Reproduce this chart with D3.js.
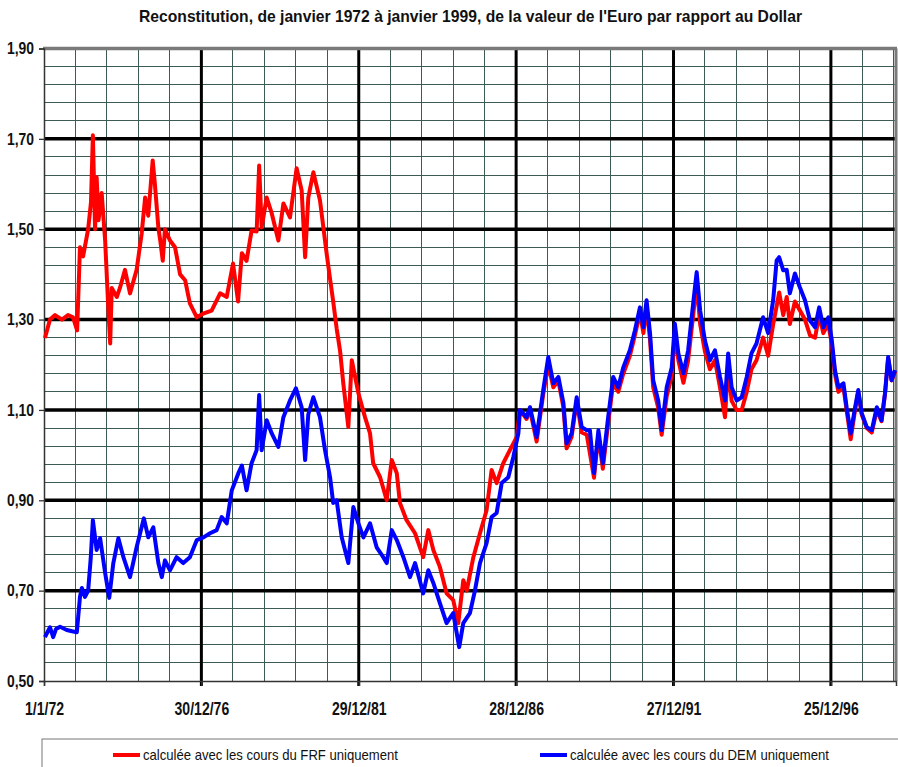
<!DOCTYPE html>
<html>
<head>
<meta charset="utf-8">
<script src="https://cdn.jsdelivr.net/npm/d3@7"></script>
<style>
  body { margin: 0; background: #fff; }
  text { font-family: "Liberation Sans", Arial, sans-serif; fill: #111; }
</style>
</head>
<body>
<div id="chart"></div>
<script>
// x tick labels (dates) and y ticks
var xTickLabels = ["1/1/72", "30/12/76", "29/12/81", "28/12/86", "27/12/91", "25/12/96"];
var yTicks = [0.5, 0.7, 0.9, 1.1, 1.3, 1.5, 1.7, 1.9];

// [decimal year, value]
var frfSeries = [
  [1972.03, 1.259], [1972.19, 1.30], [1972.35, 1.31], [1972.57, 1.30], [1972.76, 1.31],
  [1972.92, 1.305], [1973.05, 1.276], [1973.14, 1.46], [1973.24, 1.44], [1973.40, 1.50],
  [1973.49, 1.56], [1973.55, 1.708], [1973.62, 1.50], [1973.67, 1.615], [1973.73, 1.52],
  [1973.83, 1.58], [1973.94, 1.475], [1974.03, 1.34], [1974.10, 1.247], [1974.15, 1.37],
  [1974.31, 1.35], [1974.41, 1.37], [1974.57, 1.41], [1974.73, 1.358], [1974.94, 1.41],
  [1975.10, 1.49], [1975.21, 1.57], [1975.31, 1.53], [1975.45, 1.652], [1975.52, 1.60],
  [1975.63, 1.504], [1975.70, 1.47], [1975.77, 1.43], [1975.84, 1.50], [1976.00, 1.475],
  [1976.16, 1.46], [1976.32, 1.40], [1976.48, 1.387], [1976.63, 1.336], [1976.85, 1.305],
  [1977.05, 1.313], [1977.32, 1.32], [1977.59, 1.358], [1977.80, 1.35], [1978.00, 1.424],
  [1978.16, 1.34], [1978.28, 1.447], [1978.43, 1.43], [1978.59, 1.497], [1978.75, 1.495],
  [1978.83, 1.641], [1978.91, 1.504], [1979.07, 1.57], [1979.23, 1.535], [1979.44, 1.475],
  [1979.60, 1.557], [1979.81, 1.526], [1980.02, 1.635], [1980.18, 1.586], [1980.29, 1.438],
  [1980.39, 1.57], [1980.55, 1.626], [1980.76, 1.564], [1980.97, 1.447], [1981.08, 1.39],
  [1981.18, 1.34], [1981.29, 1.28], [1981.40, 1.23], [1981.50, 1.159], [1981.66, 1.062],
  [1981.77, 1.21], [1981.98, 1.137], [1982.19, 1.084], [1982.35, 1.048], [1982.45, 0.982],
  [1982.67, 0.951], [1982.88, 0.90], [1983.04, 0.989], [1983.20, 0.96], [1983.30, 0.894],
  [1983.51, 0.856], [1983.78, 0.827], [1984.04, 0.774], [1984.20, 0.834], [1984.36, 0.79],
  [1984.57, 0.752], [1984.78, 0.694], [1984.99, 0.679], [1985.15, 0.628], [1985.31, 0.723],
  [1985.42, 0.70], [1985.63, 0.774], [1985.84, 0.827], [1986.05, 0.878], [1986.21, 0.967],
  [1986.37, 0.938], [1986.58, 0.982], [1986.79, 1.011], [1987.01, 1.04], [1987.11, 1.10],
  [1987.32, 1.08], [1987.43, 1.10], [1987.64, 1.03], [1987.85, 1.135], [1988.01, 1.20],
  [1988.17, 1.15], [1988.33, 1.165], [1988.49, 1.105], [1988.59, 1.015], [1988.75, 1.04],
  [1988.91, 1.12], [1989.07, 1.05], [1989.23, 1.045], [1989.46, 0.95], [1989.60, 1.045],
  [1989.74, 0.97], [1989.91, 1.07], [1990.07, 1.16], [1990.23, 1.14], [1990.39, 1.18],
  [1990.60, 1.22], [1990.76, 1.265], [1990.92, 1.315], [1991.03, 1.27], [1991.13, 1.33],
  [1991.24, 1.255], [1991.34, 1.15], [1991.50, 1.105], [1991.61, 1.045], [1991.77, 1.13],
  [1991.93, 1.175], [1992.03, 1.27], [1992.14, 1.21], [1992.30, 1.16], [1992.45, 1.21],
  [1992.61, 1.31], [1992.72, 1.38], [1992.83, 1.29], [1992.98, 1.23], [1993.14, 1.19],
  [1993.30, 1.21], [1993.46, 1.15], [1993.62, 1.084], [1993.72, 1.20], [1993.83, 1.12],
  [1993.99, 1.10], [1994.15, 1.10], [1994.31, 1.14], [1994.46, 1.19], [1994.62, 1.21],
  [1994.83, 1.26], [1994.99, 1.22], [1995.15, 1.29], [1995.26, 1.33], [1995.34, 1.36],
  [1995.47, 1.31], [1995.58, 1.35], [1995.68, 1.29], [1995.84, 1.34], [1996.00, 1.32],
  [1996.16, 1.30], [1996.32, 1.265], [1996.48, 1.26], [1996.61, 1.31], [1996.74, 1.27],
  [1996.90, 1.29], [1997.01, 1.245], [1997.11, 1.18], [1997.22, 1.14], [1997.38, 1.15],
  [1997.48, 1.10], [1997.61, 1.035], [1997.75, 1.10], [1997.85, 1.14], [1997.96, 1.09],
  [1998.12, 1.06], [1998.28, 1.05], [1998.44, 1.10], [1998.59, 1.075], [1998.70, 1.135],
  [1998.80, 1.215], [1998.91, 1.165], [1999.02, 1.185]
];

var demSeries = [
  [1972.03, 0.597], [1972.19, 0.619], [1972.29, 0.597], [1972.38, 0.615], [1972.51, 0.62],
  [1972.72, 0.613], [1972.89, 0.61], [1973.04, 0.608], [1973.14, 0.686], [1973.20, 0.706],
  [1973.30, 0.686], [1973.40, 0.70], [1973.48, 0.77], [1973.55, 0.856], [1973.67, 0.79],
  [1973.78, 0.816], [1973.94, 0.739], [1974.07, 0.684], [1974.20, 0.761], [1974.36, 0.816],
  [1974.52, 0.774], [1974.73, 0.73], [1974.94, 0.796], [1975.17, 0.86], [1975.31, 0.818],
  [1975.47, 0.84], [1975.63, 0.761], [1975.74, 0.73], [1975.84, 0.767], [1976.00, 0.745],
  [1976.21, 0.774], [1976.42, 0.761], [1976.63, 0.774], [1976.85, 0.812], [1977.06, 0.818],
  [1977.27, 0.827], [1977.48, 0.834], [1977.64, 0.863], [1977.80, 0.849], [1977.96, 0.922],
  [1978.17, 0.96], [1978.28, 0.977], [1978.43, 0.922], [1978.59, 0.982], [1978.75, 1.011],
  [1978.83, 1.133], [1978.91, 1.011], [1979.07, 1.077], [1979.23, 1.048], [1979.44, 1.018],
  [1979.60, 1.084], [1979.81, 1.121], [1980.00, 1.148], [1980.18, 1.106], [1980.29, 0.989],
  [1980.39, 1.09], [1980.55, 1.128], [1980.76, 1.084], [1980.92, 1.011], [1981.08, 0.951],
  [1981.18, 0.894], [1981.29, 0.90], [1981.45, 0.818], [1981.66, 0.761], [1981.82, 0.885],
  [1981.98, 0.849], [1982.14, 0.818], [1982.35, 0.849], [1982.56, 0.796], [1982.77, 0.774],
  [1982.88, 0.761], [1983.04, 0.834], [1983.20, 0.812], [1983.41, 0.774], [1983.62, 0.73],
  [1983.78, 0.761], [1984.04, 0.694], [1984.20, 0.745], [1984.36, 0.717], [1984.57, 0.672],
  [1984.78, 0.628], [1984.99, 0.65], [1985.18, 0.575], [1985.31, 0.628], [1985.52, 0.65],
  [1985.68, 0.70], [1985.84, 0.761], [1986.05, 0.805], [1986.21, 0.863], [1986.37, 0.872],
  [1986.53, 0.938], [1986.74, 0.951], [1986.90, 0.996], [1987.06, 1.048], [1987.11, 1.10],
  [1987.32, 1.084], [1987.43, 1.106], [1987.64, 1.04], [1987.85, 1.144], [1988.01, 1.217],
  [1988.17, 1.159], [1988.33, 1.173], [1988.49, 1.115], [1988.59, 1.026], [1988.75, 1.048],
  [1988.91, 1.128], [1989.07, 1.062], [1989.23, 1.055], [1989.33, 1.055], [1989.46, 0.96],
  [1989.60, 1.055], [1989.74, 0.982], [1989.91, 1.084], [1990.07, 1.173], [1990.23, 1.15],
  [1990.39, 1.194], [1990.60, 1.232], [1990.76, 1.276], [1990.92, 1.327], [1991.03, 1.283],
  [1991.13, 1.343], [1991.24, 1.27], [1991.34, 1.166], [1991.50, 1.121], [1991.61, 1.055],
  [1991.77, 1.15], [1991.93, 1.194], [1992.03, 1.291], [1992.14, 1.225], [1992.30, 1.181],
  [1992.45, 1.232], [1992.61, 1.336], [1992.72, 1.405], [1992.83, 1.32], [1992.98, 1.254],
  [1993.14, 1.21], [1993.30, 1.232], [1993.46, 1.173], [1993.62, 1.121], [1993.72, 1.225],
  [1993.83, 1.15], [1993.99, 1.121], [1994.15, 1.128], [1994.31, 1.173], [1994.46, 1.225],
  [1994.62, 1.247], [1994.83, 1.305], [1994.99, 1.27], [1995.15, 1.343], [1995.26, 1.431],
  [1995.34, 1.438], [1995.47, 1.409], [1995.58, 1.41], [1995.68, 1.358], [1995.84, 1.402],
  [1996.00, 1.371], [1996.16, 1.343], [1996.32, 1.298], [1996.48, 1.283], [1996.61, 1.327],
  [1996.74, 1.283], [1996.90, 1.305], [1997.01, 1.254], [1997.11, 1.188], [1997.22, 1.15],
  [1997.38, 1.159], [1997.48, 1.106], [1997.61, 1.048], [1997.75, 1.106], [1997.85, 1.144],
  [1997.96, 1.093], [1998.12, 1.062], [1998.28, 1.055], [1998.44, 1.106], [1998.59, 1.077],
  [1998.70, 1.137], [1998.80, 1.217], [1998.91, 1.166], [1999.02, 1.188]
];

var title = "Reconstitution, de janvier 1972 à janvier 1999, de la valeur de l'Euro par rapport au Dollar";
var legendLabels = ["calculée avec les cours du FRF uniquement", "calculée avec les cours du DEM uniquement"];
var seriesColors = ["#ff0000", "#0000ff"];

function init() {
    var w = 898;
    var h = 767;
    var left = 44, right = 896, top = 48.5, bottom = 681;

    //decimal year to a date
    function toDate(y) {
        var yr = Math.floor(y);
        var a = new Date(yr, 0, 1), b = new Date(yr + 1, 0, 1);
        return new Date(a.getTime() + (y - yr) * (b - a));
    }

    var parse = d3.timeParse("%d/%m/%y");
    var tickDates = xTickLabels.map(parse);

    var x = d3.scaleTime()
            .domain([new Date(1972, 0, 1), new Date(1999, 0, 19)])
            .range([left, right]);

    var y = d3.scaleLinear()
            .domain([0.5, 1.9])
            .range([bottom, top]);

    var svg = d3.select("#chart")
            .append("svg")
            .attr("width", w)
            .attr("height", h);

    // title
    svg.append("text")
        .attr("x", 470.5)
        .attr("y", 22)
        .attr("text-anchor", "middle")
        .attr("textLength", 663)
        .attr("lengthAdjust", "spacingAndGlyphs")
        .style("font-size", "17px")
        .style("font-weight", "bold")
        .text(title);

    //minor horizontal lines every 0.04
    var minorY = d3.range(0, 36).map(function(i) { return 0.5 + i * 0.04; });
    svg.append("g").selectAll("line")
        .data(minorY)
        .enter()
        .append("line")
        .attr("x1", left).attr("x2", right)
        .attr("y1", function(d) { return y(d); })
        .attr("y2", function(d) { return y(d); })
        .style("stroke", "#3e5a54")
        .style("stroke-width", 1)
        .style("shape-rendering", "crispEdges");

    //minor vertical lines: 5 per major interval
    var minorX = [];
    for (var i = 0; i < tickDates.length; i++) {
        var t0 = tickDates[i].getTime();
        var step = i < tickDates.length - 1 ? (tickDates[i + 1] - tickDates[i]) / 5 : (tickDates[i] - tickDates[i - 1]) / 5;
        for (var k = 1; k < 5; k++) {
            var d = new Date(t0 + k * step);
            if (d < x.domain()[1]) minorX.push(d);
        }
    }
    svg.append("g").selectAll("line")
        .data(minorX)
        .enter()
        .append("line")
        .attr("x1", function(d) { return x(d); })
        .attr("x2", function(d) { return x(d); })
        .attr("y1", top).attr("y2", bottom)
        .style("stroke", "#3e5a54")
        .style("stroke-width", 1)
        .style("shape-rendering", "crispEdges");

    //major lines
    svg.append("g").selectAll("line")
        .data(yTicks.filter(function(d) { return d > 0.5 && d < 1.9; }))
        .enter()
        .append("line")
        .attr("x1", left).attr("x2", right)
        .attr("y1", function(d) { return y(d); })
        .attr("y2", function(d) { return y(d); })
        .style("stroke", "#000")
        .style("stroke-width", 3.5);

    svg.append("g").selectAll("line")
        .data(tickDates.slice(1))
        .enter()
        .append("line")
        .attr("x1", function(d) { return x(d); })
        .attr("x2", function(d) { return x(d); })
        .attr("y1", top).attr("y2", bottom + 5)
        .style("stroke", "#000")
        .style("stroke-width", 3);

    //frame
    svg.append("line").attr("x1", left - 1).attr("x2", right + 1).attr("y1", top).attr("y2", top)
        .style("stroke", "#7a7a7a").style("stroke-width", 3.5);
    svg.append("line").attr("x1", right).attr("x2", right).attr("y1", top).attr("y2", bottom)
        .style("stroke", "#7a7a7a").style("stroke-width", 3);

    // axes
    var yAxis = d3.axisLeft(y)
            .tickValues(yTicks)
            .tickSize(5)
            .tickPadding(5)
            .tickFormat(function(d) { return d3.format(".2f")(d).replace(".", ","); });
    var gy = svg.append("g")
        .attr("transform", "translate(" + left + ",0)")
        .call(yAxis);
    gy.select(".domain").style("stroke", "#333").style("stroke-width", 1.5);
    gy.selectAll(".tick line").style("stroke", "#333").style("stroke-width", 1.3);
    gy.selectAll("text")
        .style("font-size", "16.5px")
        .style("font-weight", "bold")
        .style("font-family", "'Liberation Sans', Arial, sans-serif")
        .attr("textLength", 27)
        .attr("lengthAdjust", "spacingAndGlyphs");

    var xAxis = d3.axisBottom(x)
            .tickValues(tickDates)
            .tickSize(5)
            .tickPadding(16)
            .tickFormat(function(d, i) { return xTickLabels[i]; });
    var gx = svg.append("g")
        .attr("transform", "translate(0," + bottom + ")")
        .call(xAxis);
    gx.select(".domain").style("stroke", "#333").style("stroke-width", 1.5);
    gx.selectAll(".tick line").style("stroke", "#333").style("stroke-width", 1.3);
    gx.selectAll("text")
        .style("font-size", "18px")
        .style("font-weight", "bold")
        .style("font-family", "'Liberation Sans', Arial, sans-serif")
        .each(function() {
            var len = this.getComputedTextLength();
            d3.select(this).attr("textLength", len * 0.78).attr("lengthAdjust", "spacingAndGlyphs");
        });

    // lines
    var line = d3.line()
            .x(function(d) { return x(toDate(d[0])); })
            .y(function(d) { return y(d[1]); });

    [frfSeries, demSeries].forEach(function(s, i) {
        svg.append("path")
            .datum(s)
            .attr("d", line)
            .style("fill", "none")
            .style("stroke", seriesColors[i])
            .style("stroke-width", 4)
            .style("stroke-linejoin", "round");
    });

    // legend
    svg.append("rect")
        .attr("x", 42).attr("y", 739)
        .attr("width", 880).attr("height", 60)
        .style("fill", "none")
        .style("stroke", "#777")
        .style("stroke-width", 1);

    var legendX = [113, 540];
    var legendW = [255, 259];
    legendLabels.forEach(function(lab, i) {
        svg.append("line")
            .attr("x1", legendX[i]).attr("x2", legendX[i] + 27)
            .attr("y1", 755).attr("y2", 755)
            .style("stroke", seriesColors[i])
            .style("stroke-width", 4);
        svg.append("text")
            .attr("x", legendX[i] + 30)
            .attr("y", 760)
            .attr("textLength", legendW[i])
            .attr("lengthAdjust", "spacingAndGlyphs")
            .style("font-size", "14.5px")
            .text(lab);
    });
}

window.onload = init;
</script>
</body>
</html>
